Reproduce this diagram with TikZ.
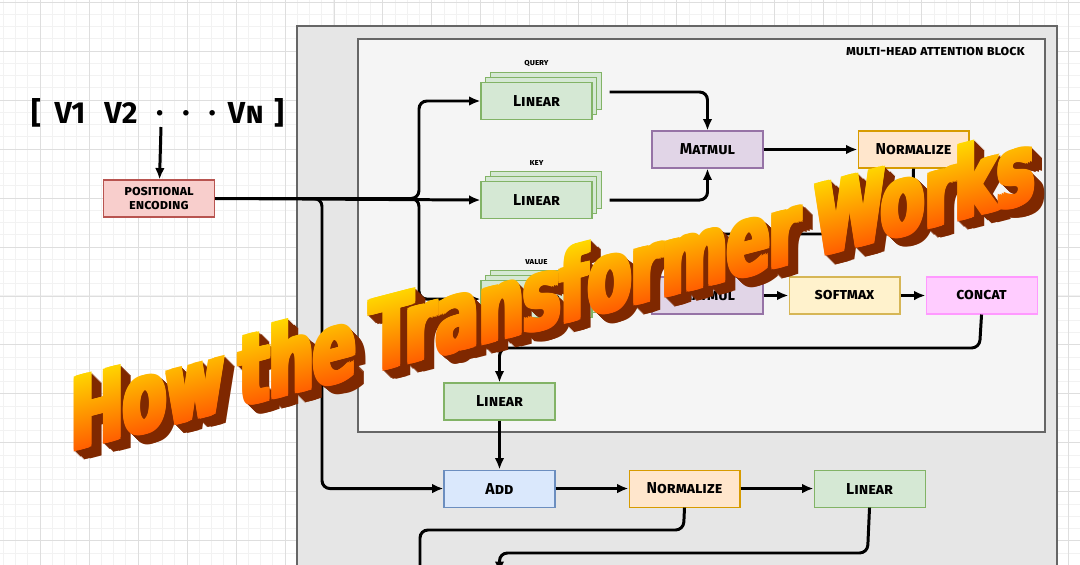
\documentclass[tikz,border=0pt]{standalone}
\usepackage{fontspec}
\setmainfont{Fira Sans}
\newfontfamily\titlefont{DejaVu Sans Condensed}
\usepackage{tikz}
\usetikzlibrary{positioning, arrows.meta, shadows, fadings, calc}
\definecolor{gridminor}{HTML}{F2F2F2}
\definecolor{gridmajor}{HTML}{DEDEDE}
\definecolor{outerfill}{HTML}{E6E6E6}
\definecolor{innerfill}{HTML}{F5F5F5}
\definecolor{boxline}{HTML}{666666}
\definecolor{redfill}{HTML}{F8CECC}
\definecolor{redline}{HTML}{B85450}
\definecolor{greenfill}{HTML}{D5E8D4}
\definecolor{greenline}{HTML}{82B366}
\definecolor{purplefill}{HTML}{E1D5E7}
\definecolor{purpleline}{HTML}{9673A6}
\definecolor{orangefill}{HTML}{FFE6CC}
\definecolor{orangeline}{HTML}{D79B00}
\definecolor{yellowfill}{HTML}{FFF2CC}
\definecolor{yellowline}{HTML}{D6B656}
\definecolor{pinkfill}{HTML}{FFCCFF}
\definecolor{pinkline}{HTML}{FF99FF}
\definecolor{bluefill}{HTML}{DAE8FC}
\definecolor{blueline}{HTML}{6C8EBF}
\definecolor{titletop}{HTML}{FFD800}
\definecolor{titlebottom}{HTML}{FF5A00}
\definecolor{titleshade}{HTML}{7F2800}
\newcommand{\titlewords}{How\hspace{0.21em}the\hspace{0.21em}Transformer\hspace{0.21em}Works}
\tikzset{
    block/.style={draw, line width=0.6pt, minimum width=2.22cm, minimum height=0.74cm,
      inner sep=0pt, font=\bfseries\scshape\small},
    stack/.style={block,
      copy shadow={shadow xshift=5.6pt, shadow yshift=5.6pt},
      copy shadow={shadow xshift=2.8pt, shadow yshift=2.8pt}},
    tag/.style={font=\bfseries\scshape\tiny, inner sep=0pt},
    seqtext/.style={font=\bfseries\LARGE, inner sep=0pt},
    flow/.style={line width=1.7pt, rounded corners=4.5pt},
    titletext/.style={font=\titlefont\bfseries\fontsize{57}{57}\selectfont, xscale=0.695, inner sep=0pt},
}
\begin{tikzfadingfrompicture}[name=titlefade]
  \foreach \dx in {-0.06,-0.02,0.02,0.06}
    \foreach \dy in {-0.02,0.02}
      \node[titletext, text=transparent!0] (fadetext) at (\dx,\dy) {\titlewords};
\end{tikzfadingfrompicture}

\begin{document}
\begin{tikzpicture}[x=0.02cm, y=-0.02cm, >={Latex[length=6.5pt,width=5.5pt]}]
    \clip (0,0) rectangle (1080,565);
    \fill[white] (0,0) rectangle (1080,565);
    \draw[gridminor, line width=0.5pt, shift={(40,2)}, step=0.245cm] (-40,-2) grid (1040,563);
    \draw[gridmajor, line width=0.5pt, shift={(40,2)}, step=0.98cm] (-40,-2) grid (1040,563);

    \draw[boxline, fill=outerfill, line width=0.6pt] (297,26) rectangle (1057,600);
    \draw[boxline, fill=innerfill, line width=0.6pt] (358,39) rectangle (1045,432);
    \node[tag, font=\bfseries\scshape\footnotesize, anchor=north east] (mhlabel) at (1025,47) {multi-head attention block};

    \node[seqtext] (lbr) at (36,113) {[};
    \node[seqtext] (vone) at (70,113) {V1};
    \node[seqtext] (vtwo) at (121,113) {V2};
    \node[seqtext] (dots) at (186,113) {.\hspace{0.38cm}.\hspace{0.38cm}.};
    \node[seqtext] (vlast) at (246,113) {V\textsc{n}};
    \node[seqtext] (rbr) at (279,113) {]};
    \coordinate (seqdot) at (161,127);

    \node[block, fill=redfill, draw=redline, align=center, font=\bfseries\scshape\footnotesize] (posenc) at (159,198.5) {positional\\[-1pt]encoding};

    \node[stack, fill=greenfill, draw=greenline] (qlin) at (536.5,101) {Linear};
    \node[stack, fill=greenfill, draw=greenline, below=1.22cm of qlin] (klin) {Linear};
    \node[stack, fill=greenfill, draw=greenline, below=1.22cm of klin] (vlin) {Linear};
    \node[tag, above=0.3cm of qlin] (qtag) {query};
    \node[tag, above=0.3cm of klin] (ktag) {key};
    \node[tag, above=0.3cm of vlin] (vtag) {value};

    \node[block, fill=purplefill, draw=purpleline] (mmone) at (707.5,149.5) {Matmul};
    \node[block, fill=orangefill, draw=orangeline, right=1.88cm of mmone] (normone) {Normalize};
    \node[block, fill=purplefill, draw=purpleline] (mmtwo) at (707.5,295.5) {Matmul};
    \node[block, fill=yellowfill, draw=yellowline, right=0.5cm of mmtwo] (soft) {softmax};
    \node[block, fill=pinkfill, draw=pinkline, right=0.5cm of soft] (concat) {concat};

    \node[block, fill=greenfill, draw=greenline] (linout) at (499.5,401.5) {Linear};
    \node[block, fill=bluefill, draw=blueline, below=0.98cm of linout] (add) {Add};
    \node[block, fill=orangefill, draw=orangeline, right=1.46cm of add] (normtwo) {Normalize};
    \node[block, fill=greenfill, draw=greenline, right=1.46cm of normtwo] (linff) {Linear};
    \coordinate (resout) at (420,600);
    \coordinate (nextblock) at (499.5,573);

    \draw[flow, ->] (seqdot) -- (posenc);
    \draw[flow, ->] (posenc.east) -- (419,198.5) |- (qlin.west);
    \draw[flow, ->] (posenc.east) -- (419,198.5) |- (vlin.west);
    \draw[flow, ->] (posenc.east) -- (klin.west);
    \draw[flow, ->] (posenc.east) -- (322,198.5) |- (add.west);
    \draw[flow, ->] ($(qlin.east)+(17,-9)$) -| (mmone.north);
    \draw[flow, ->] ($(klin.east)+(17,0)$) -| (mmone.south);
    \draw[flow, ->] (mmone) -- (normone);
    \draw[flow, ->] (normone.south) -- (912.5,234) -| (mmtwo.north);
    \draw[flow, ->] ($(vlin.east)+(17,0)$) -- (mmtwo.west);
    \draw[flow, ->] (mmtwo) -- (soft);
    \draw[flow, ->] (soft) -- (concat);
    \draw[flow, ->] (concat.south) -- (979.5,348) -| (linout.north);
    \draw[flow, ->] (linout) -- (add);
    \draw[flow, ->] (add) -- (normtwo);
    \draw[flow, ->] (normtwo) -- (linff);
    \draw[flow] (normtwo.south) -- (683.5,530) -| (resout);
    \draw[flow, ->] (linff.south) -- (867.5,553) -| (nextblock);

    \begin{scope}[transform canvas={shift={(553,289)}, yslant=0.26}]
      \foreach \k in {10,9,...,1}
        \foreach \dx in {-3,0,3}
          \node[titletext, text=titleshade] (titledepth\k) at (1.0*\k+\dx, 1.2*\k) {\titlewords};
      \shade[top color=titletop, bottom color=titlebottom, path fading=titlefade, fit fading=false]
        (-530,-40) rectangle (530,40);
    \end{scope}
\end{tikzpicture}
\end{document}
